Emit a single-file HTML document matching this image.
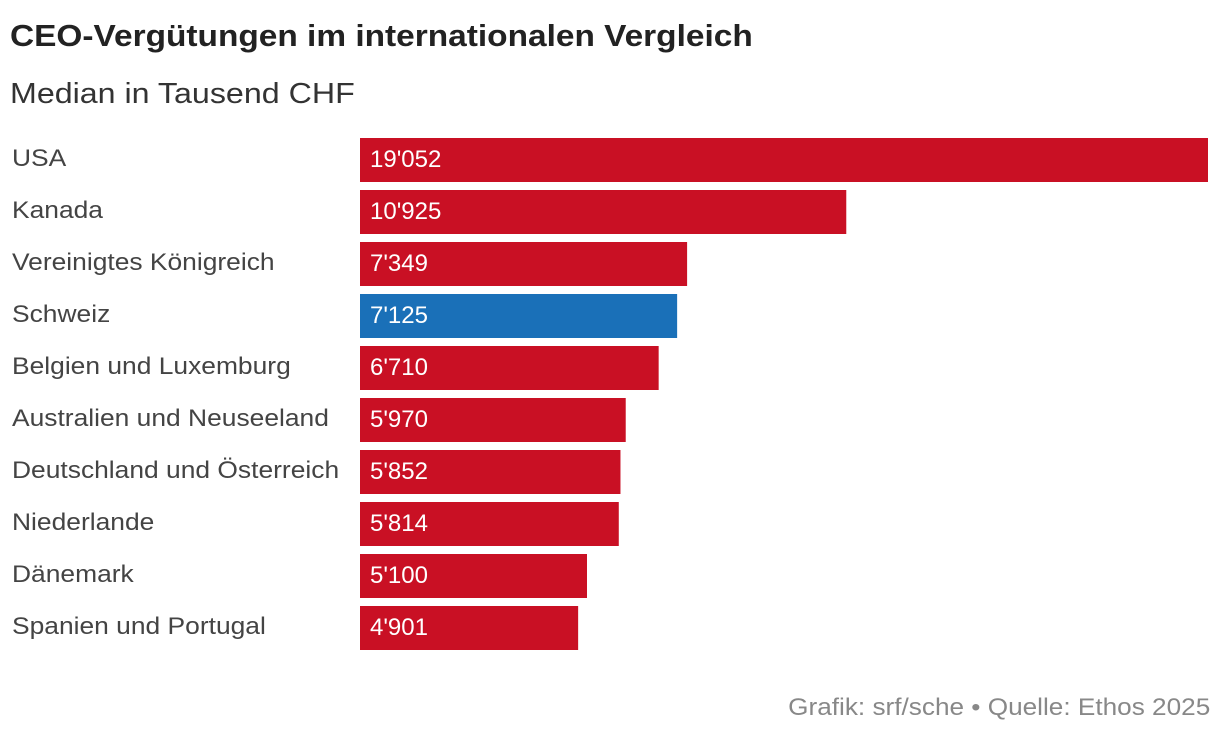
<!DOCTYPE html>
<html><head><meta charset="utf-8">
<style>
body{margin:0;width:1220px;height:740px;background:#fff;font-family:"Liberation Sans",sans-serif;overflow:hidden;position:relative}
.t{position:absolute;white-space:nowrap}
</style></head><body>
<div class="t" style="left:10px;top:18px;font-size:31px;font-weight:bold;color:#222;transform:scaleX(1.078);transform-origin:0 0">CEO-Vergütungen im internationalen Vergleich</div>
<div class="t" style="left:10px;top:78px;font-size:29px;color:#333;transform:scaleX(1.11);transform-origin:0 0">Median in Tausend CHF</div>
<svg id="chart" width="1220" height="740" style="position:absolute;left:0;top:0"></svg>
<div class="t" style="right:10px;top:694px;font-size:24px;color:#888;transform:scaleX(1.09);transform-origin:100% 0">Grafik: srf/sche • Quelle: Ethos 2025</div>
<script>
const categories=["USA","Kanada","Vereinigtes Königreich","Schweiz","Belgien und Luxemburg","Australien und Neuseeland","Deutschland und Österreich","Niederlande","Dänemark","Spanien und Portugal"];
const values=[19052,10925,7349,7125,6710,5970,5852,5814,5100,4901];
const valueLabels=["19'052","10'925","7'349","7'125","6'710","5'970","5'852","5'814","5'100","4'901"];
const highlight=["Schweiz"];
const svg=document.getElementById('chart');
const NS='http://www.w3.org/2000/svg';
const x0=360,x1=1208,maxV=Math.max(...values);
const xs=v=>v/maxV*(x1-x0);
const ys=i=>138+i*52;
categories.forEach((c,i)=>{
  const lab=document.createElementNS(NS,'text');
  
  
  lab.setAttribute('transform','translate(12,'+(ys(i)+28)+') scale(1.1,1)');
  lab.setAttribute('font-size','24');lab.setAttribute('fill','#444');
  lab.setAttribute('font-family','Liberation Sans, sans-serif');
  lab.textContent=c;svg.appendChild(lab);
  const r=document.createElementNS(NS,'rect');
  
  
  r.setAttribute('x',x0);r.setAttribute('y',ys(i));
  r.setAttribute('width',xs(values[i]));r.setAttribute('height',44);
  r.setAttribute('fill',highlight.includes(c)?'#1a70b8':'#c91024');
  svg.appendChild(r);
  const v=document.createElementNS(NS,'text');
  
  
  v.setAttribute('x',x0+10);v.setAttribute('y',ys(i)+29);
  v.setAttribute('font-size','24');v.setAttribute('fill','#fff');
  v.setAttribute('font-family','Liberation Sans, sans-serif');
  v.textContent=valueLabels[i];svg.appendChild(v);
});
</script>
</body></html>
